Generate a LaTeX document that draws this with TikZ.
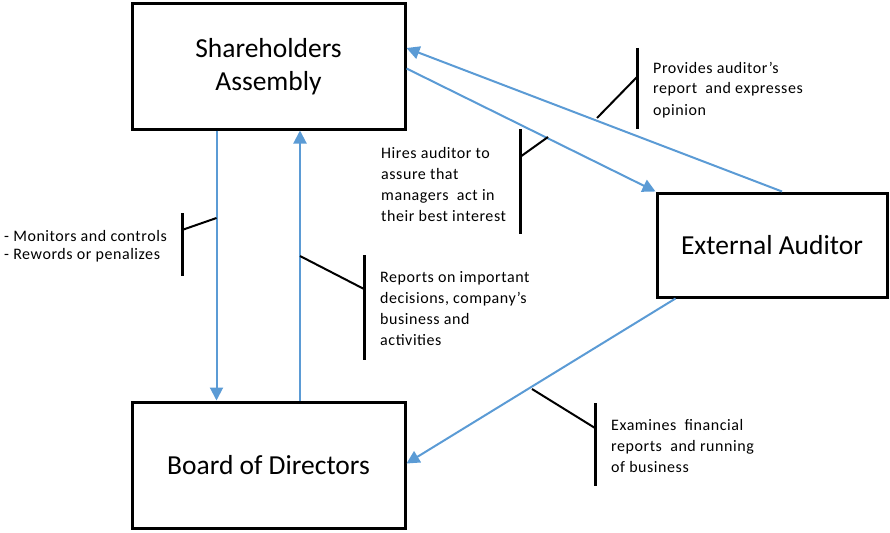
\documentclass[tikz,border=0pt]{standalone}
\usepackage{fontspec}
\setmainfont{Carlito}
\newfontfamily\notefont[LetterSpace=3.5]{Carlito}
\usetikzlibrary{arrows.meta}
\definecolor{flowblue}{HTML}{5B9BD5}
\tikzset{
  box/.style={draw=black, line width=3pt, minimum width=#1, inner sep=0pt, font=\fontsize{27.5}{33}\selectfont, align=center},
  flow/.style={draw=flowblue, line width=2pt, -{Triangle[length=13pt,width=13pt]}},
  bar/.style={draw=black, line width=3pt},
  tick/.style={draw=black, line width=2pt},
  note/.style={inner sep=0pt, anchor=base west, align=left, font=\notefont\fontsize{16}{21}\selectfont},
}
\begin{document}
\begin{tikzpicture}[x=1pt,y=-1pt]
\useasboundingbox (0,0) rectangle (890,532);
% boxes
\node[box=273pt, minimum height=125pt] (sa) at (268.5,66.5) {Shareholders\\Assembly};
\node[box=230pt, minimum height=104pt] (ea) at (772,245) {External Auditor};
\node[box=273pt, minimum height=126pt] (bd) at (268.5,465) {Board of Directors};
% flows
\draw[flow] ([xshift=-52pt]sa.south) -- ([xshift=-52pt]bd.north);
\draw[flow] ([xshift=31.5pt]bd.north) -- ([xshift=31.5pt]sa.south);
\draw[flow] ([yshift=-2pt]sa.east) -- (ea.north west);
\draw[flow] ([xshift=10pt]ea.north) -- ([yshift=18.5pt]sa.east);
\draw[flow] ([xshift=20pt]ea.south west) -- ([yshift=1.5pt]bd.east);
% callouts (node base = baseline of last line)
\draw[bar] (182,213) -- (182,276);
\draw[tick] (182,230) -- (216.5,218);
\node[note, font=\notefont\fontsize{16}{18}\selectfont] (tmon) at (4,259) {- Monitors and controls\\- Rewords or penalizes};

\draw[bar] (364,255) -- (364,360);
\draw[tick] (364,289) -- (300,256);
\node[note] (trep) at (380,345) {Reports on important\\decisions, company’s\\business and\\activities};

\draw[bar] (520,129) -- (520,234);
\draw[tick] (520,157) -- (548,137);
\node[note] (thir) at (381,221) {Hires auditor to\\assure that\\managers\ \ act in\\their best interest};

\draw[bar] (637,48) -- (637,129);
\draw[tick] (637,77) -- (597,118);
\node[note] (tpro) at (653,115) {Provides auditor’s\\report\ \ and expresses\\opinion};

\draw[bar] (595,403) -- (595,486);
\draw[tick] (595,428) -- (532,389);
\node[note] (texa) at (611,472) {Examines\ \ financial\\reports\ \ and running\\of business};
\end{tikzpicture}
\end{document}
